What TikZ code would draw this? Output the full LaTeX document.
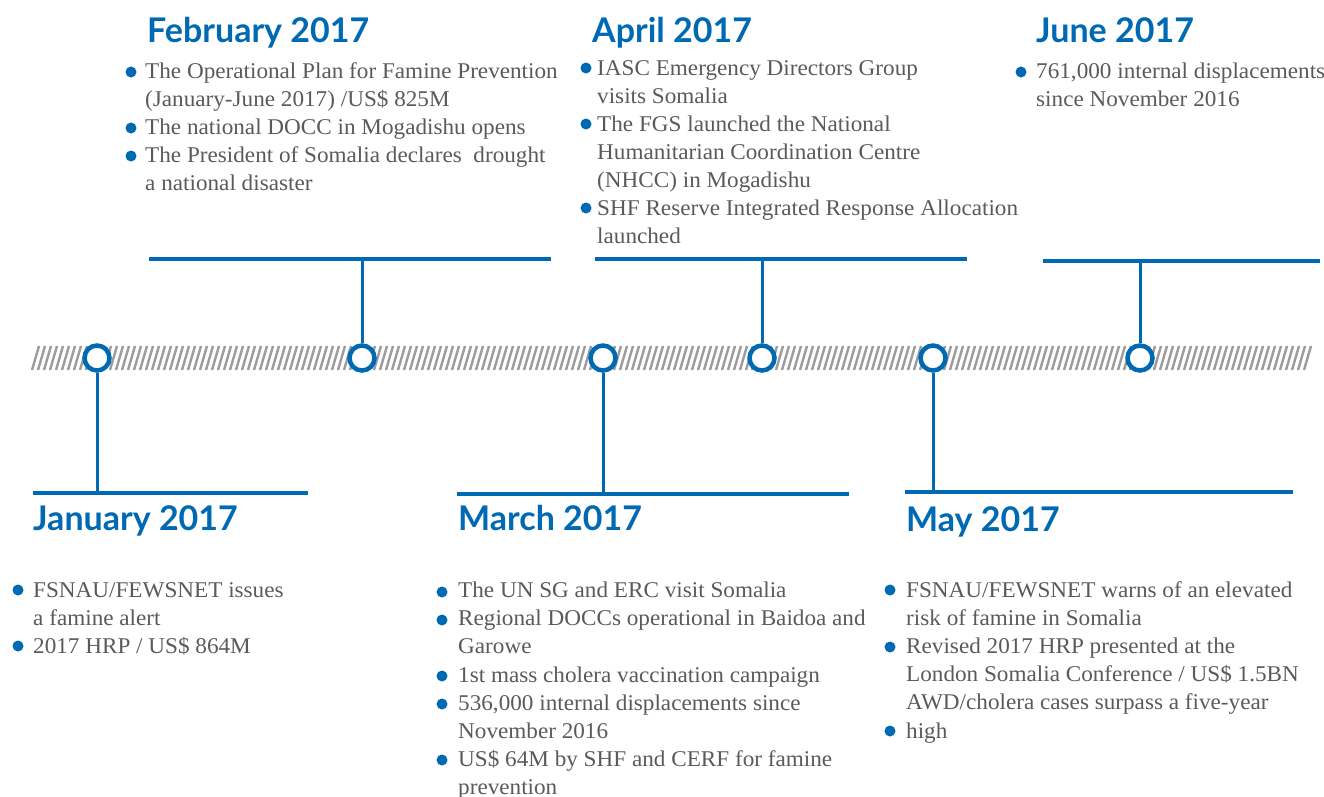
\documentclass[tikz,border=0pt]{standalone}
\usepackage{fontspec}
\setmainfont{Liberation Serif}[FakeStretch=1.03]
\newfontfamily\headfont{Lato}
\definecolor{tlblue}{HTML}{0069B4}
\definecolor{tlgray}{HTML}{5A5A5A}
\definecolor{hatch}{HTML}{9C9C9C}
\begin{document}
\begin{tikzpicture}[x=1pt,y=-1pt,
  head/.style={anchor=base west,inner sep=0pt,text=tlblue,font=\headfont\bfseries\fontsize{34}{34}\selectfont},
  body/.style={anchor=base west,inner sep=0pt,text=tlgray,font=\fontsize{22.5}{28}\selectfont},
  dot/.style={circle,fill=tlblue,inner sep=0pt,minimum size=11pt},
  ring/.style={circle,draw=tlblue,line width=4.5pt,fill=white,inner sep=0pt,minimum size=25pt},
  bar/.style={draw=tlblue,line width=3.5pt},
  stem/.style={draw=tlblue,line width=3pt}]
\useasboundingbox (0,0) rectangle (1324,796);
% hatched band
\foreach \i in {0,...,212} {
  \draw[hatch,line width=2.4pt] (32+6*\i,370) -- (39+6*\i,346);
}
% rings
\node[ring] (c1) at (97,358) {};
\node[ring] (c2) at (362,358) {};
\node[ring] (c3) at (603,358) {};
\node[ring] (c4) at (762,358) {};
\node[ring] (c5) at (933,358) {};
\node[ring] (c6) at (1140,358) {};
% bar coordinates
\coordinate (b1) at (97,493);
\coordinate (b2) at (362,259);
\coordinate (b3) at (603,494);
\coordinate (b4) at (762,259);
\coordinate (b5) at (933,494);
\coordinate (b6) at (1140,261);
\draw[bar] (33,493) -- (308,493);
\draw[bar] (149,259) -- (551,259);
\draw[bar] (457,494) -- (849,494);
\draw[bar] (595,259) -- (967,259);
\draw[bar] (905,492) -- (1293,492);
\draw[bar] (1043,261) -- (1320,261);
\draw[stem] (c1) -- (b1);
\draw[stem] (c2) -- (b2);
\draw[stem] (c3) -- (b3);
\draw[stem] (c4) -- (b4);
\draw[stem] (c5) -- (b5);
\draw[stem] (c6) -- (b6);
% headings
\node[head] (hfeb) at (147,42) {February 2017};
\node[head] (hapr) at (592,42) {April 2017};
\node[head] (hjun) at (1036,42) {June 2017};
\node[head] (hjan) at (33,530) {January 2017};
\node[head] (hmar) at (458,530) {March 2017};
\node[head] (hmay) at (906,531) {May 2017};
% February
\node[dot] (fd1) at (131,72) {};
\node[dot] (fd2) at (131,128) {};
\node[dot] (fd3) at (131,156) {};
\node[body] (f1) at (145,78) {The Operational Plan for Famine Prevention};
\node[body] (f2) at (145,106) {(January-June 2017) /US\$ 825M};
\node[body] (f3) at (145,134) {The national DOCC in Mogadishu opens};
\node[body] (f4) at (145,162) {The President of Somalia declares\ \ drought};
\node[body] (f5) at (145,190) {a national disaster};
% April
\node[dot] (ad1) at (586,68) {};
\node[dot] (ad2) at (586,124) {};
\node[dot] (ad3) at (586,208) {};
\node[body] (a1) at (597,75) {IASC Emergency Directors Group};
\node[body] (a2) at (597,103) {visits Somalia};
\node[body] (a3) at (597,131) {The FGS launched the National};
\node[body] (a4) at (597,159) {Humanitarian Coordination Centre};
\node[body] (a5) at (597,187) {(NHCC) in Mogadishu};
\node[body] (a6) at (597,215) {SHF Reserve Integrated Response Allocation};
\node[body] (a7) at (597,243) {launched};
% June
\node[dot] (jd1) at (1021,72) {};
\node[body] (j1) at (1036,78) {761,000 internal displacements};
\node[body] (j2) at (1036,106) {since November 2016};
% January
\node[dot] (nd1) at (18,590) {};
\node[dot] (nd2) at (18,646) {};
\node[body] (n1) at (33,597) {FSNAU/FEWSNET issues};
\node[body] (n2) at (33,625) {a famine alert};
\node[body] (n3) at (33,653) {2017 HRP / US\$ 864M};
% March
\node[dot] (md1) at (442,592) {};
\node[dot] (md2) at (442,620) {};
\node[dot] (md3) at (442,676) {};
\node[dot] (md4) at (442,704) {};
\node[dot] (md5) at (442,760) {};
\node[body] (m1) at (458,597) {The UN SG and ERC visit Somalia};
\node[body] (m2) at (458,625) {Regional DOCCs operational in Baidoa and};
\node[body] (m3) at (458,653) {Garowe};
\node[body] (m4) at (458,682) {1st mass cholera vaccination campaign};
\node[body] (m5) at (458,710) {536,000 internal displacements since};
\node[body] (m6) at (458,738) {November 2016};
\node[body] (m7) at (458,766) {US\$ 64M by SHF and CERF for famine};
\node[body] (m8) at (458,794) {prevention};
% May
\node[dot] (yd1) at (890,590) {};
\node[dot] (yd2) at (890,647) {};
\node[dot] (yd3) at (890,731) {};
\node[body] (y1) at (906,597) {FSNAU/FEWSNET warns of an elevated};
\node[body] (y2) at (906,625) {risk of famine in Somalia};
\node[body] (y3) at (906,653) {Revised 2017 HRP presented at the};
\node[body] (y4) at (906,681) {London Somalia Conference / US\$ 1.5BN};
\node[body] (y5) at (906,709) {AWD/cholera cases surpass a five-year};
\node[body] (y6) at (906,738) {high};
\end{tikzpicture}
\end{document}
